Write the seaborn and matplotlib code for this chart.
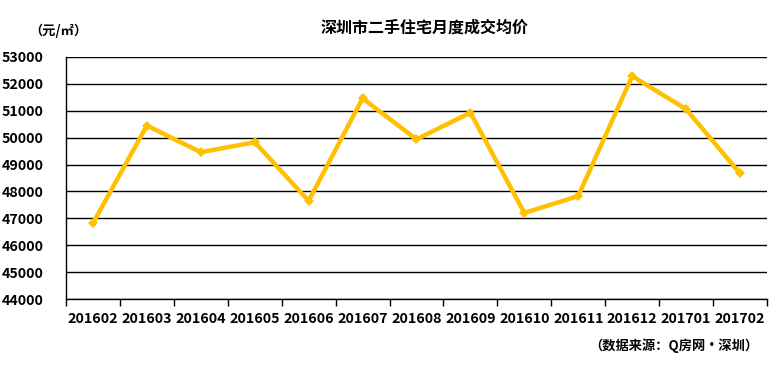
import matplotlib
matplotlib.use("Agg")
import matplotlib.pyplot as plt
import seaborn as sns
import pandas as pd
from matplotlib.ticker import FixedLocator, MultipleLocator

months = ["201602", "201603", "201604", "201605", "201606", "201607", "201608",
          "201609", "201610", "201611", "201612", "201701", "201702"]
prices = [46820, 50450, 49460, 49830, 47650, 51460, 49940,
          50930, 47200, 47830, 52290, 51060, 48670]
title = "深圳市二手住宅月度成交均价"
unit_label = "（元/㎡）"
source_label = "（数据来源：Q房网•深圳）"

sns.set_theme(style="white")
plt.rcParams['font.family'] = ['Noto Sans CJK SC', 'DejaVu Sans']

df = pd.DataFrame({"month": months, "price": prices})

fig = plt.figure(figsize=(7.8, 3.74), dpi=100)
ax = fig.add_axes([0.0846, 0.2005, 0.8987, 0.6471])

sns.lineplot(data=df, x="month", y="price", ax=ax, color="#FFC000",
             linewidth=3.2, marker="D", markersize=5.5, markeredgewidth=0,
             sort=False)

ax.set_xlim(-0.5, len(months) - 0.5)
ax.set_ylim(44000, 53000)
ax.yaxis.set_major_locator(MultipleLocator(1000))
ax.grid(axis="y", color="black", linewidth=1.0)
ax.set_axisbelow(True)

ax.set_xlabel("")
ax.set_ylabel("")
for s in ["top", "right"]:
    ax.spines[s].set_visible(False)
for s in ["left", "bottom"]:
    ax.spines[s].set_color("black")
    ax.spines[s].set_linewidth(1.0)

ax.set_xticks(range(len(months)))
ax.set_xticklabels(months, fontsize=10.3, fontweight="bold", color="black")
ax.xaxis.set_minor_locator(FixedLocator([i - 0.5 for i in range(len(months) + 1)]))
ax.tick_params(axis="x", which="major", length=0, pad=9)
ax.tick_params(axis="x", which="minor", length=5, width=1, color="black", direction="out", bottom=True)
ax.tick_params(axis="y", length=0, pad=16)
for lab in ax.get_yticklabels():
    lab.set_fontsize(10.3)
    lab.set_fontweight("bold")
    lab.set_color("black")

fig.text(0.544, 0.925, title, ha="center", va="center", fontsize=11.5,
         fontweight="bold", color="black")
fig.text(0.037, 0.918, unit_label, ha="left", va="center", fontsize=9.5,
         fontweight="bold", color="black")
fig.text(0.972, 0.076, source_label, ha="right", va="center", fontsize=9.5,
         fontweight="bold", color="black")

fig.savefig("out.png", dpi=100)
